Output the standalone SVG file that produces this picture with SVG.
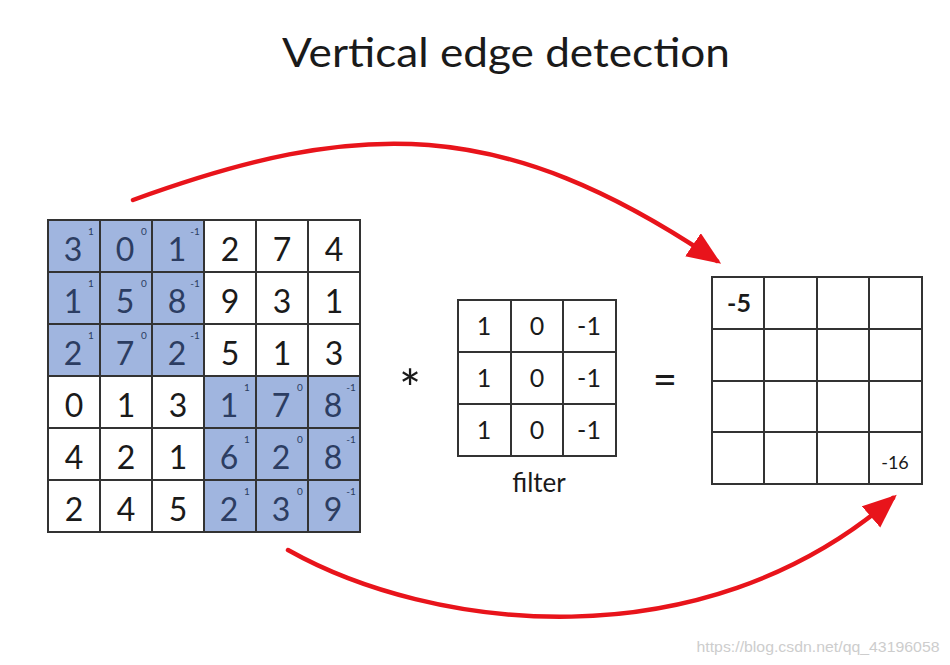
<svg xmlns="http://www.w3.org/2000/svg" width="950" height="665" viewBox="0 0 950 665">
<style>
.t{font-family:Lato,"Open Sans","Liberation Sans",sans-serif;fill:#1a1a1a}
.big{font-size:32px;text-anchor:middle}
.sh{fill:#2c3d62}
.sup{font-size:10px;text-anchor:middle;fill:#2c3d62}
.mid{font-size:25px;text-anchor:middle}
.grid{fill:none;stroke:#333;stroke-width:2}
.shade{fill:#a0b5df}
.arrow{fill:none;stroke:#e8141b;stroke-width:4.5;stroke-linecap:round}
</style>
<defs>
<marker id="ah" markerUnits="userSpaceOnUse" markerWidth="36" markerHeight="30" refX="29" refY="14" orient="auto">
<path d="M0,0 L34,14 L0,28 z" fill="#e8141b"/>
</marker>
</defs>
<rect width="950" height="665" fill="#fff"/>
<text class="t" x="506" y="67" font-size="40" text-anchor="middle" textLength="448" lengthAdjust="spacingAndGlyphs">Vertical edge detection</text>

<g id="input">
<rect class="shade" x="48" y="220" width="156" height="156"/>
<rect class="shade" x="204" y="376" width="156" height="156"/>
<path class="grid" d="M48,220H360V532H48Z M48,272H360 M48,324H360 M48,376H360 M48,428H360 M48,480H360 M100,220V532 M152,220V532 M204,220V532 M256,220V532 M308,220V532"/>
<g class="t big">
<text class="sh" x="73" y="261">3</text><text class="sh" x="125" y="261">0</text><text class="sh" x="177" y="261">1</text><text x="230" y="261">2</text><text x="282" y="261">7</text><text x="334" y="261">4</text>
<text class="sh" x="73" y="313">1</text><text class="sh" x="125" y="313">5</text><text class="sh" x="177" y="313">8</text><text x="230" y="313">9</text><text x="282" y="313">3</text><text x="334" y="313">1</text>
<text class="sh" x="73" y="365">2</text><text class="sh" x="125" y="365">7</text><text class="sh" x="177" y="365">2</text><text x="230" y="365">5</text><text x="282" y="365">1</text><text x="334" y="365">3</text>
<text x="74" y="417">0</text><text x="126" y="417">1</text><text x="178" y="417">3</text><text class="sh" x="229" y="417">1</text><text class="sh" x="281" y="417">7</text><text class="sh" x="333" y="417">8</text>
<text x="74" y="469">4</text><text x="126" y="469">2</text><text x="178" y="469">1</text><text class="sh" x="229" y="469">6</text><text class="sh" x="281" y="469">2</text><text class="sh" x="333" y="469">8</text>
<text x="74" y="521">2</text><text x="126" y="521">4</text><text x="178" y="521">5</text><text class="sh" x="229" y="521">2</text><text class="sh" x="281" y="521">3</text><text class="sh" x="333" y="521">9</text>
</g>
<g class="t sup">
<text x="91" y="235">1</text><text x="144" y="235">0</text><text x="195" y="235">-1</text>
<text x="91" y="287">1</text><text x="144" y="287">0</text><text x="195" y="287">-1</text>
<text x="91" y="339">1</text><text x="144" y="339">0</text><text x="195" y="339">-1</text>
<text x="247" y="391">1</text><text x="300" y="391">0</text><text x="351" y="391">-1</text>
<text x="247" y="443">1</text><text x="300" y="443">0</text><text x="351" y="443">-1</text>
<text x="247" y="495">1</text><text x="300" y="495">0</text><text x="351" y="495">-1</text>
</g>
</g>

<g id="op-conv"><text class="t" x="410" y="408" font-size="52" text-anchor="middle">*</text></g>

<g id="filter">
<path class="grid" d="M458,300H616V456H458Z M458,352H616 M458,404H616 M511,300V456 M563,300V456"/>
<g class="t mid">
<text x="484" y="335">1</text><text x="537" y="335">0</text><text x="589" y="335">-1</text>
<text x="484" y="387">1</text><text x="537" y="387">0</text><text x="589" y="387">-1</text>
<text x="484" y="439">1</text><text x="537" y="439">0</text><text x="589" y="439">-1</text>
</g>
<text class="t" x="539" y="492" font-size="26" text-anchor="middle">filter</text>
</g>

<g id="op-eq"><text class="t" x="665" y="394" font-size="42" text-anchor="middle">=</text></g>

<g id="output">
<path class="grid" d="M712,277H922V484H712Z M712,329H922 M712,381H922 M712,432H922 M764,277V484 M817,277V484 M869,277V484"/>
<text class="t" x="739" y="312" font-size="25" font-weight="bold" text-anchor="middle">-5</text>
<text class="t" x="895" y="469" font-size="18" text-anchor="middle">-16</text>
</g>

<g id="connectors">
<path class="arrow" marker-end="url(#ah)" d="M133,200 C359,118 501,115 717,261"/>
<path class="arrow" marker-end="url(#ah)" d="M288,550 C430,630 700,665 893,498"/>
</g>

<text x="818" y="652" font-family="'Liberation Sans',Arial,sans-serif" font-size="15" fill="#cdcdcd" text-anchor="middle" textLength="243" lengthAdjust="spacingAndGlyphs">https://blog.csdn.net/qq_43196058</text>
</svg>
